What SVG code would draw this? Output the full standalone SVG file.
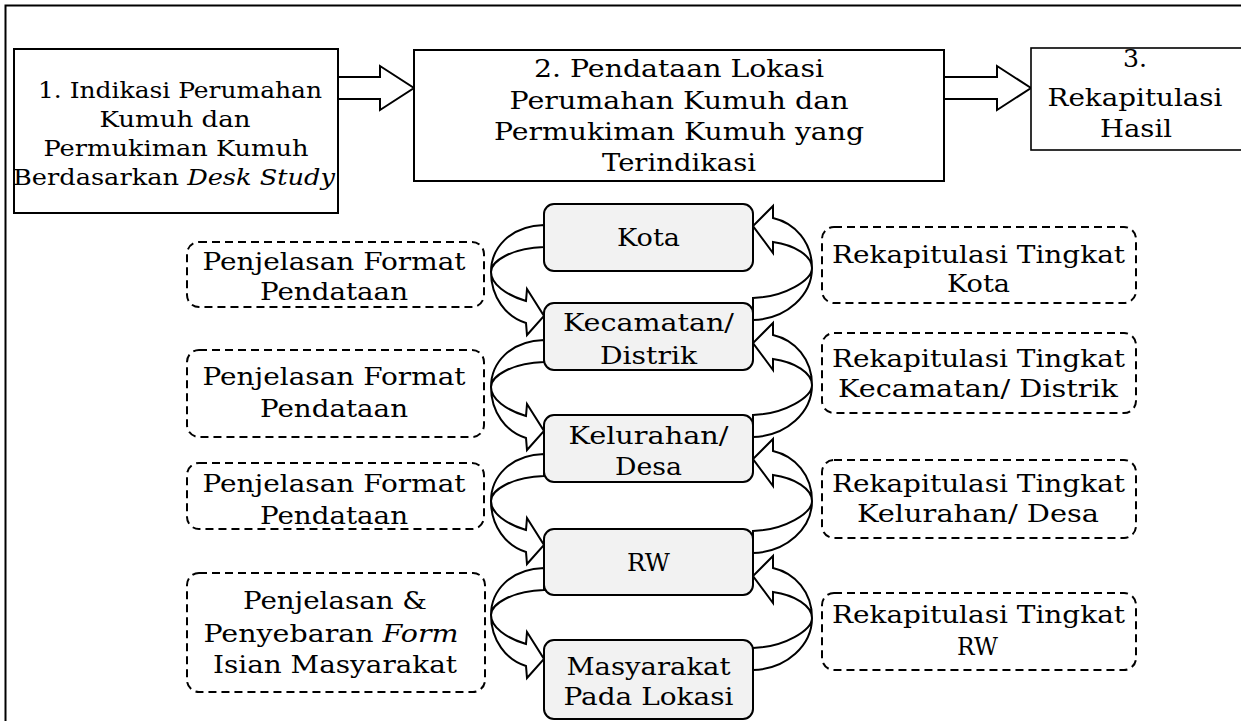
<svg xmlns="http://www.w3.org/2000/svg" xmlns:xlink="http://www.w3.org/1999/xlink" width="1241" height="721" viewBox="0 0 1241 721">
<style>
text{font-family:"DejaVu Serif","Liberation Serif",serif;font-size:24px;fill:#000;text-anchor:middle}
.s22{font-size:22px}
.it{font-style:italic}
.box{fill:#fff;stroke:#000;stroke-width:2}
.lvl{fill:#f2f2f2;stroke:#000;stroke-width:2}
.dash{fill:#fff;stroke:#000;stroke-width:2;stroke-dasharray:8 5}
.arr{fill:#fff;stroke:#000;stroke-width:2;stroke-linejoin:miter}
.carr{fill:none;stroke:#000;stroke-width:2;stroke-linejoin:miter}
</style>
<defs>
<path id="cl" d="M0,0 C-34,1 -53,23 -53,47 C-53,72 -38,92 -18,98 L-17,110 L0,91 L-17,64 L-18,76 C-38,70 -53,59 -53,47 C-53,36 -32,23 0,22 Z"/>
<path id="cr" d="M0,0 C34,-1 59,-25 59,-52 C59,-78 42,-97 20,-102 L20,-114 L0,-94 L20,-67 L20,-78 C42,-75 59,-64 59,-52 C59,-40 32,-23 0,-22 Z"/>
</defs>
<rect width="1241" height="721" fill="#fff"/>
<path d="M5.5,721 V5.5 H1241" fill="none" stroke="#000" stroke-width="2"/>

<g id="connectors">
<polygon class="arr" points="338,77 380,77 380,66 414,88 380,110 380,99 338,99"/>
<polygon class="arr" points="944,77 997,77 997,66 1031,88 997,110 997,99 944,99"/>
<use href="#cl" class="carr" transform="translate(544,225)"/>
<use href="#cl" class="carr" transform="translate(544,340)"/>
<use href="#cl" class="carr" transform="translate(544,454)"/>
<use href="#cl" class="carr" transform="translate(544,568)"/>
<use href="#cr" class="carr" transform="translate(753,320)"/>
<use href="#cr" class="carr" transform="translate(753,437)"/>
<use href="#cr" class="carr" transform="translate(753,553)"/>
<use href="#cr" class="carr" transform="translate(753,670)"/>
</g>

<g id="step1">
<rect class="box" x="14" y="49" width="324" height="164"/>
<text class="s22" x="180" y="98" textLength="284" lengthAdjust="spacingAndGlyphs">1. Indikasi Perumahan</text>
<text class="s22" x="175" y="127" textLength="151" lengthAdjust="spacingAndGlyphs">Kumuh dan</text>
<text class="s22" x="176" y="156" textLength="265" lengthAdjust="spacingAndGlyphs">Permukiman Kumuh</text>
<text class="s22" x="174" y="185" textLength="322" lengthAdjust="spacingAndGlyphs">Berdasarkan <tspan class="it">Desk Study</tspan></text>
</g>

<g id="step2">
<rect class="box" x="414" y="50" width="530" height="131"/>
<text x="679" y="77" textLength="290" lengthAdjust="spacingAndGlyphs">2. Pendataan Lokasi</text>
<text x="679" y="109" textLength="339" lengthAdjust="spacingAndGlyphs">Perumahan Kumuh dan</text>
<text x="679" y="140" textLength="370" lengthAdjust="spacingAndGlyphs">Permukiman Kumuh yang</text>
<text x="679" y="171" textLength="154" lengthAdjust="spacingAndGlyphs">Terindikasi</text>
</g>

<g id="step3">
<rect x="1031" y="48" width="220" height="102" fill="#fff" stroke="#000" stroke-width="1.6"/>
<text x="1135" y="67" textLength="24" lengthAdjust="spacingAndGlyphs">3.</text>
<text x="1135" y="106" textLength="175" lengthAdjust="spacingAndGlyphs">Rekapitulasi</text>
<text x="1136" y="137" textLength="72" lengthAdjust="spacingAndGlyphs">Hasil</text>
</g>

<g id="kota">
<rect class="lvl" x="544" y="204" width="209" height="67" rx="10"/>
<text x="648.5" y="246" textLength="63" lengthAdjust="spacingAndGlyphs">Kota</text>
</g>
<g id="kecamatan">
<rect class="lvl" x="544" y="303" width="209" height="67" rx="10"/>
<text x="648.5" y="331" textLength="171" lengthAdjust="spacingAndGlyphs">Kecamatan/</text>
<text x="648.5" y="364" textLength="97" lengthAdjust="spacingAndGlyphs">Distrik</text>
</g>
<g id="kelurahan">
<rect class="lvl" x="544" y="415" width="209" height="67" rx="10"/>
<text x="648.5" y="444" textLength="160" lengthAdjust="spacingAndGlyphs">Kelurahan/</text>
<text x="648.5" y="475" textLength="67" lengthAdjust="spacingAndGlyphs">Desa</text>
</g>
<g id="rw">
<rect class="lvl" x="544" y="529" width="209" height="66" rx="10"/>
<text x="648.5" y="571" textLength="43" lengthAdjust="spacingAndGlyphs">RW</text>
</g>
<g id="masyarakat">
<rect class="lvl" x="544" y="640" width="209" height="79" rx="10"/>
<text x="648.5" y="675" textLength="164" lengthAdjust="spacingAndGlyphs">Masyarakat</text>
<text x="648.5" y="705" textLength="170" lengthAdjust="spacingAndGlyphs">Pada Lokasi</text>
</g>

<g id="penjelasan1">
<rect class="dash" x="187" y="242" width="297" height="65" rx="12"/>
<text x="334" y="270" textLength="263" lengthAdjust="spacingAndGlyphs">Penjelasan Format</text>
<text x="334" y="300" textLength="148" lengthAdjust="spacingAndGlyphs">Pendataan</text>
</g>
<g id="penjelasan2">
<rect class="dash" x="187" y="350" width="297" height="87" rx="12"/>
<text x="334" y="385" textLength="263" lengthAdjust="spacingAndGlyphs">Penjelasan Format</text>
<text x="334" y="417" textLength="148" lengthAdjust="spacingAndGlyphs">Pendataan</text>
</g>
<g id="penjelasan3">
<rect class="dash" x="187" y="463" width="297" height="66" rx="12"/>
<text x="334" y="492" textLength="263" lengthAdjust="spacingAndGlyphs">Penjelasan Format</text>
<text x="334" y="524" textLength="148" lengthAdjust="spacingAndGlyphs">Pendataan</text>
</g>
<g id="penjelasan4">
<rect class="dash" x="187" y="573" width="298" height="119" rx="12"/>
<text x="335" y="609" textLength="184" lengthAdjust="spacingAndGlyphs">Penjelasan &amp;</text>
<text x="331" y="642" textLength="255" lengthAdjust="spacingAndGlyphs">Penyebaran <tspan class="it">Form</tspan></text>
<text x="335" y="673" textLength="244" lengthAdjust="spacingAndGlyphs">Isian Masyarakat</text>
</g>

<g id="rekap-kota">
<rect class="dash" x="822" y="227" width="314" height="76" rx="12"/>
<text x="978.5" y="263" textLength="293" lengthAdjust="spacingAndGlyphs">Rekapitulasi Tingkat</text>
<text x="978.5" y="292" textLength="63" lengthAdjust="spacingAndGlyphs">Kota</text>
</g>
<g id="rekap-kecamatan">
<rect class="dash" x="822" y="333" width="314" height="80" rx="12"/>
<text x="978.5" y="367" textLength="293" lengthAdjust="spacingAndGlyphs">Rekapitulasi Tingkat</text>
<text x="978" y="397" textLength="280" lengthAdjust="spacingAndGlyphs">Kecamatan/ Distrik</text>
</g>
<g id="rekap-kelurahan">
<rect class="dash" x="822" y="460" width="314" height="78" rx="12"/>
<text x="978.5" y="492" textLength="293" lengthAdjust="spacingAndGlyphs">Rekapitulasi Tingkat</text>
<text x="978" y="522" textLength="242" lengthAdjust="spacingAndGlyphs">Kelurahan/ Desa</text>
</g>
<g id="rekap-rw">
<rect class="dash" x="822" y="593" width="314" height="77" rx="12"/>
<text x="978.5" y="623" textLength="293" lengthAdjust="spacingAndGlyphs">Rekapitulasi Tingkat</text>
<text x="977.5" y="655" textLength="41" lengthAdjust="spacingAndGlyphs">RW</text>
</g>
</svg>
